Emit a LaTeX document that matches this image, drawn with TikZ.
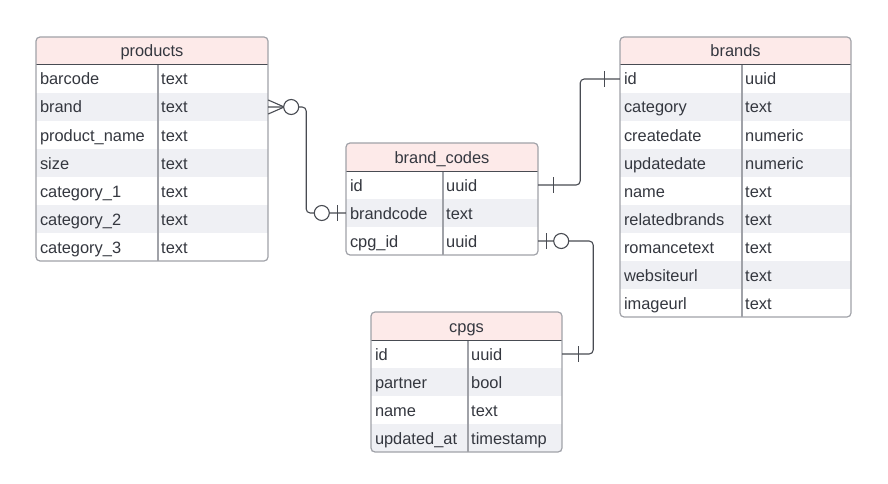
\documentclass[tikz,border=0pt]{standalone}
\usepackage{fontspec}
\setmainfont{Liberation Sans}
\usetikzlibrary{calc}
\definecolor{headpink}{RGB}{253,234,233}
\definecolor{rowgray}{RGB}{239,240,244}
\definecolor{framegray}{RGB}{160,162,168}
\definecolor{inkgray}{RGB}{52,55,63}
\definecolor{linkgray}{RGB}{72,75,82}

\begin{document}
\begin{tikzpicture}[x=1pt, y=-1pt, font=\fontsize{16.4}{19}\selectfont, text=inkgray,
            header/.style={rectangle, inner sep=0pt, minimum height=28pt, text height=12pt, text depth=0pt},
            row/.style={rectangle, inner sep=0pt, minimum height=28pt, align=left, text height=12pt, text depth=0pt},
            coltype/.style={anchor=west, inner sep=0pt, text height=12pt, text depth=0pt},
            frame/.style={draw=framegray, line width=1.2pt, rounded corners=4pt},
            divider/.style={draw=framegray, line width=1.2pt},
            headline/.style={draw=linkgray, line width=1pt},
            link/.style={draw=linkgray, line width=1.1pt, rounded corners=4pt},
            notation/.style={draw=linkgray, line width=1.1pt},
            zero/.style={circle, draw=linkgray, line width=1.1pt, fill=white, minimum size=15pt, inner sep=0pt}
        ]
            \useasboundingbox (0,0) rectangle (888,484);

            % Table: products
            \fill[headpink] (36,65) [rounded corners=4pt] -- (36,37) -- (268,37) [sharp corners] -- (268,65) -- cycle;
            \node[header] (products) at (152,51) {products};
            \foreach \field/\type [count=\i] in {barcode/text, brand/text, product\_name/text, size/text, category\_1/text, category\_2/text, category\_3/text} {
                \ifodd\i \def\rowfill{white}\else \def\rowfill{rowgray}\fi
                \node[row, fill=\rowfill, minimum width=232pt, text width=224pt] (products-\i) at (152,{51+28*\i}) {\field};
                \node[coltype] (products-\i-type) at (161,{51+28*\i}) {\type};
            }
            \draw[divider] (158,65) -- (158,261);
            \draw[headline] (36,65) -- (268,65);
            \draw[frame] (36,37) rectangle (268,261);

            % Table: brands
            \fill[headpink] (620,65) [rounded corners=4pt] -- (620,37) -- (851,37) [sharp corners] -- (851,65) -- cycle;
            \node[header] (brands) at (735.5,51) {brands};
            \foreach \field/\type [count=\i] in {id/uuid, category/text, createdate/numeric, updatedate/numeric, name/text, relatedbrands/text, romancetext/text, websiteurl/text, imageurl/text} {
                \ifodd\i \def\rowfill{white}\else \def\rowfill{rowgray}\fi
                \node[row, fill=\rowfill, minimum width=231pt, text width=223pt] (brands-\i) at (735.5,{51+28*\i}) {\field};
                \node[coltype] (brands-\i-type) at (745,{51+28*\i}) {\type};
            }
            \draw[divider] (742,65) -- (742,317);
            \draw[headline] (620,65) -- (851,65);
            \draw[frame] (620,37) rectangle (851,317);

            % Table: brand_codes
            \fill[headpink] (346,171) [rounded corners=4pt] -- (346,143) -- (538,143) [sharp corners] -- (538,171) -- cycle;
            \node[header] (codes) at (442,157) {brand\_codes};
            \foreach \field/\type [count=\i] in {id/uuid, brandcode/text, cpg\_id/uuid} {
                \ifodd\i \def\rowfill{white}\else \def\rowfill{rowgray}\fi
                \node[row, fill=\rowfill, minimum width=192pt, text width=184pt] (codes-\i) at (442,{157+28*\i}) {\field};
                \node[coltype] (codes-\i-type) at (446,{157+28*\i}) {\type};
            }
            \draw[divider] (443,171) -- (443,255);
            \draw[headline] (346,171) -- (538,171);
            \draw[frame] (346,143) rectangle (538,255);

            % Table: cpgs
            \fill[headpink] (371,340) [rounded corners=4pt] -- (371,312) -- (562,312) [sharp corners] -- (562,340) -- cycle;
            \node[header] (cpgs) at (466.5,326) {cpgs};
            \foreach \field/\type [count=\i] in {id/uuid, partner/bool, name/text, updated\_at/timestamp} {
                \ifodd\i \def\rowfill{white}\else \def\rowfill{rowgray}\fi
                \node[row, fill=\rowfill, minimum width=191pt, text width=183pt] (cpgs-\i) at (466.5,{326+28*\i}) {\field};
                \node[coltype] (cpgs-\i-type) at (471,{326+28*\i}) {\type};
            }
            \draw[divider] (468,340) -- (468,452);
            \draw[headline] (371,340) -- (562,340);
            \draw[frame] (371,312) rectangle (562,452);

            % Relations
            \draw[link] (products-2.east) -- ++(38,0) |- (codes-2.west);
            \draw[link] (codes-1.east) -- ++(42,0) |- (brands-1.west);
            \draw[link] (codes-3.east) -- ++(55,0) |- (cpgs-1.east);

            % Ends: products (zero or many) to brand_codes (zero or one)
            \draw[notation] ($(products-2.east)+(0,-7)$) -- ($(products-2.east)+(16,0)$) -- ($(products-2.east)+(0,7)$);
            \node[zero] (products-2-zero) at ($(products-2.east)+(23,0)$) {};
            \node[zero] (codes-2-zero) at ($(codes-2.west)+(-24,0)$) {};
            \draw[notation] ($(codes-2.west)+(-8,-8)$) -- ++(0,16);

            % Ends: brand_codes to brands (one and one)
            \draw[notation] ($(codes-1.east)+(15,-8)$) -- ++(0,16);
            \draw[notation] ($(brands-1.west)+(-15,-8)$) -- ++(0,16);

            % Ends: brand_codes (zero or one) to cpgs (one)
            \draw[notation] ($(codes-3.east)+(8,-8)$) -- ++(0,16);
            \node[zero] (codes-3-zero) at ($(codes-3.east)+(23,0)$) {};
            \draw[notation] ($(cpgs-1.east)+(16,-8)$) -- ++(0,16);
        \end{tikzpicture}
\end{document}
